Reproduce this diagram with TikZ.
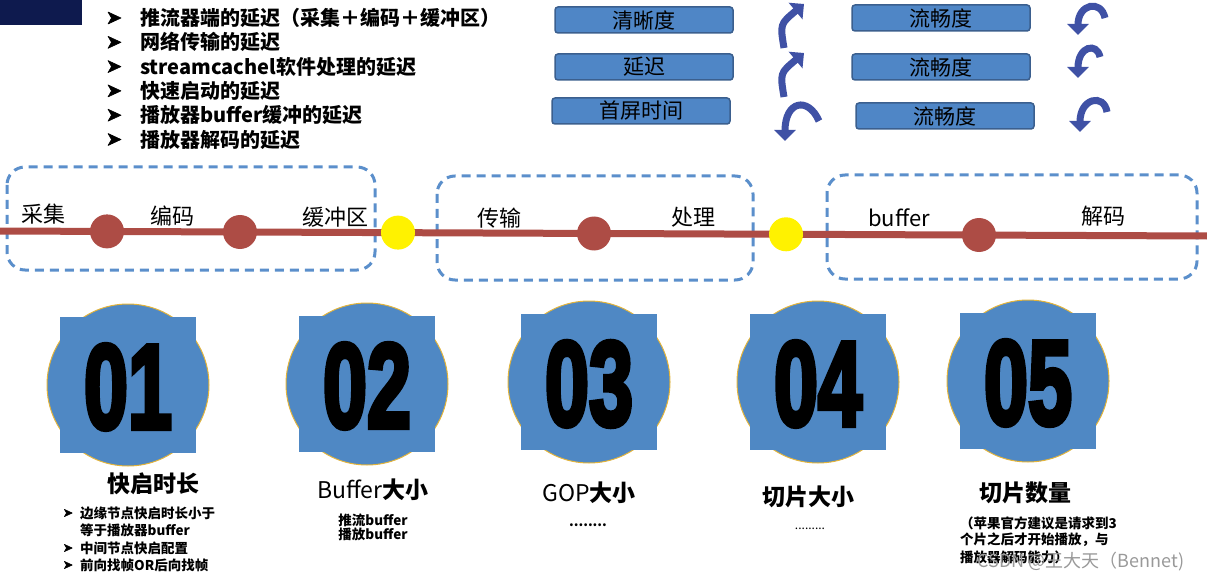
\documentclass[tikz,border=0pt]{standalone}
\usepackage{fontspec}
\setmainfont{Noto Sans CJK SC}
\newfontfamily\numfont[FakeBold=4.5]{Liberation Sans}
\usetikzlibrary{arrows.meta}
\definecolor{navy}{HTML}{0E1A4E}
\definecolor{boxblue}{HTML}{4F86C6}
\definecolor{boxedge}{HTML}{3B5F8E}
\definecolor{arrowblue}{HTML}{3F51A5}
\definecolor{railred}{HTML}{AD4C45}
\definecolor{dashblue}{HTML}{5B8FCB}
\definecolor{badgeblue}{HTML}{4F88C4}
\definecolor{badgegold}{HTML}{E3B43B}

\begin{document}
\begin{tikzpicture}[x=1pt,y=-1pt,
  tagbox/.style={draw=boxedge,line width=1.5pt,fill=boxblue,rounded corners=3pt,
    minimum width=178pt,minimum height=26pt,inner sep=0pt,font=\fontsize{21}{21}\selectfont},
  bendarrow/.style={arrowblue,line width=7pt,-{Triangle[length=11pt,width=21pt]}},
  rail/.style={railred,line width=7pt},
  stopdot/.style={circle,fill=railred,minimum size=34pt,inner sep=0pt},
  gatedot/.style={circle,fill=yellow,minimum size=34pt,inner sep=0pt},
  zone/.style={draw=dashblue,line width=3pt,dash pattern=on 9pt off 6pt,rounded corners=18pt},
  stoplabel/.style={font=\fontsize{22}{22}\selectfont},
  listtxt/.style={anchor=west,inner sep=0pt,font=\fontsize{20}{20}\selectfont\bfseries},
  arrowhd/.style={fill=black,draw=black,line width=0.6pt,line join=round},
  badgering/.style={circle,draw=badgegold,line width=1pt,fill=badgeblue,minimum size=162pt,inner sep=0pt},
  badgesq/.style={fill=badgeblue,minimum size=136pt,inner sep=0pt},
  numtxt/.style={inner sep=0pt,xscale=0.66,font=\numfont\bfseries\fontsize{120}{120}\selectfont},
  titletxt/.style={inner sep=0pt,font=\fontsize{23}{23}\selectfont\bfseries},
  subtxt/.style={inner sep=0pt,anchor=west,font=\fontsize{13.5}{13.5}\selectfont\bfseries}]
\useasboundingbox (0,0) rectangle (1207,580);

\fill[navy] (0,0) rectangle (82,25);

\foreach \t [count=\i] in {推流器端的延迟（采集＋编码＋缓冲区）,网络传输的延迟,
    streamcachel软件处理的延迟,快速启动的延迟,播放器buffer缓冲的延迟,播放器解码的延迟} {
  \filldraw[arrowhd,shift={(114,{18+(\i-1)*24.3})}] (-6,-6) -- (7,0) -- (-6,6) -- (-2.5,0) -- cycle;
  \node[listtxt] (item\i) at (140,{18+(\i-1)*24.3}) {\t};
}

\node[tagbox] (clear) at (644,20) {清晰度};
\node[tagbox] (lag) at (644,67) {延迟};
\node[tagbox] (first) at (641,111) {首屏时间};
\node[tagbox] (smooth1) at (941,18) {流畅度};
\node[tagbox] (smooth2) at (941,67) {流畅度};
\node[tagbox] (smooth3) at (945,116) {流畅度};

\coordinate (up1) at (784,48);
\coordinate (up2) at (784,97);
\coordinate (dn1) at (819,121);
\draw[bendarrow] (up1) .. controls (780,24) .. (804,4);
\draw[bendarrow] (up2) .. controls (780,73) .. (804,53);
\draw[bendarrow] (dn1) .. controls (808,96) and (785,101) .. (785,141);
\draw[bendarrow] (1105,18) .. controls (1101,-1) and (1078,4) .. (1078,35);
\draw[bendarrow] (1100,57) .. controls (1097,42) and (1078,46) .. (1078,78);
\draw[bendarrow] (1107,112) .. controls (1104,93) and (1080,98) .. (1080,132);

\draw[zone] (7,167) rectangle (375,270);
\draw[zone] (437,176) rectangle (753,280);
\draw[zone] (827,175) rectangle (1197,279);

\draw[rail] (0,231) -- (1207,236);
\node[stopdot] (enc) at (107,231.4) {};
\node[stopdot] (buf) at (240,232) {};
\node[gatedot] (gate1) at (398,232.6) {};
\node[stopdot] (net) at (594,233.5) {};
\node[gatedot] (gate2) at (786,234.3) {};
\node[stopdot] (dec) at (979,235) {};

\node[stoplabel] (lcap) at (43,214) {采集};
\node[stoplabel] (lenc) at (172,216) {编码};
\node[stoplabel] (lbuf) at (335,217) {缓冲区};
\node[stoplabel] (lnet) at (499,218) {传输};
\node[stoplabel] (lproc) at (693,217) {处理};
\node[stoplabel] (lplay) at (899,218) {buffer};
\node[stoplabel] (ldec) at (1103,216) {解码};

\foreach \x/\y/\n [count=\i] in {128/385/01,367/384/02,589/382/03,818/382/04,1028/381/05} {
  \node[badgering] (ring\i) at (\x,\y) {};
  \node[badgesq] (sq\i) at (ring\i) {};
  \node[numtxt] (num\i) at (\x,\y+2) {\n};
}

\node[titletxt] (t1) at (153,484) {快启时长};
\node[titletxt] (t2) at (373,490) {\mdseries Buffer\bfseries 大小};
\node[titletxt] (t3) at (589,493) {\mdseries GOP\bfseries 大小};
\node[titletxt] (t4) at (808,497) {切片大小};
\node[titletxt] (t5) at (1025,493) {切片数量};

\foreach \y in {513,548,565}
  \filldraw[arrowhd,shift={(68,\y)},scale=0.6] (-6,-6) -- (7,0) -- (-6,6) -- (-2.5,0) -- cycle;
\node[subtxt] (s1a) at (80,513) {边缘节点快启时长小于};
\node[subtxt] (s1b) at (80,530) {等于播放器buffer};
\node[subtxt] (s1c) at (80,548) {中间节点快启配置};
\node[subtxt] (s1d) at (80,565) {前向找帧OR后向找帧};

\node[subtxt,anchor=center] (s2a) at (373,520) {推流buffer};
\node[subtxt,anchor=center] (s2b) at (373,534) {播放buffer};
\node[subtxt,anchor=center] (s3) at (588,525) {........};
\node[subtxt,anchor=center,font=\fontsize{12}{12}\selectfont] (s4) at (810,529) {.........};

\node[subtxt] (s5a) at (960,523) {（苹果官方建议是请求到3};
\node[subtxt] (s5b) at (960,540) {个片之后才开始播放，与};
\node[subtxt] (s5c) at (960,557) {播放器解码能力）};

\node[inner sep=0pt,text=gray!80,font=\fontsize{18}{18}\selectfont] (mark) at (1081,562) {CSDN @王大天（Bennet)};
\end{tikzpicture}
\end{document}
